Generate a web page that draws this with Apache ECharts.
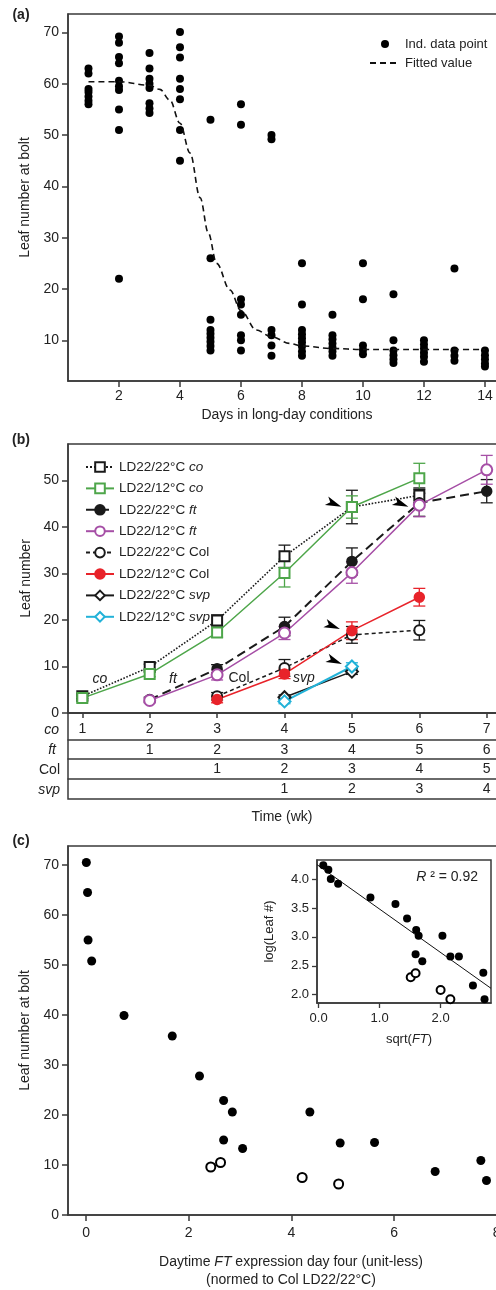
<!DOCTYPE html>
<html><head><meta charset="utf-8">
<script src="https://cdn.jsdelivr.net/npm/echarts@6/dist/echarts.min.js"></script>
<style>html,body{margin:0;padding:0;background:#fff}#c{width:496px;height:1290px}</style>
</head><body><div id="c"></div>
<script>
// ---------- Panel (a) data ----------
const daysA = [1,2,3,4,5,6,7,8,9,10,11,12,13,14];
const leafByDay = [
  [63, 62, 59, 58.4, 57.5, 56.7, 56],
  [69.2, 68, 65.2, 64, 60.6, 59.5, 58.8, 55, 51, 22],
  [66, 63, 61, 60, 59.2, 56.2, 55.2, 54.3],
  [70.1, 67.1, 65.1, 61, 59, 57, 51, 45],
  [53, 26, 14, 12, 11.3, 10.5, 9.7, 8.9, 8],
  [56, 52, 18, 17, 15, 11, 10, 8],
  [50, 49.2, 12, 11, 9, 7],
  [25, 17, 12, 11.2, 10.4, 9.6, 8.8, 7.8, 7],
  [15, 11, 10.2, 9.4, 8.6, 7.8, 7],
  [25, 18, 9, 8.1, 7.3],
  [19, 10, 8, 7.1, 6.3, 5.6],
  [10, 9.2, 8.4, 7.6, 6.8, 5.8],
  [24, 8, 7, 6],
  [8, 7.1, 6.3, 5.5, 4.9]
];
const fitX = [1, 2, 3, 3.34, 3.67, 4, 4.33, 4.66, 4.93, 5.2, 5.64, 6, 6.5, 7, 7.6, 8, 9, 10, 11, 12, 13, 14];
const fitY = [60.4, 60.4, 59.7, 58.9, 56.8, 52.3, 46.5, 37.8, 30.9, 25, 19.8, 15.8, 12, 10.7, 9.4, 8.9, 8.4, 8.2, 8.2, 8.2, 8.2, 8.2];
const dayTicks = [2,4,6,8,10,12,14];
const leafTicksA = [10,20,30,40,50,60,70];

// ---------- Panel (b) data ----------
const weeks = [1,2,3,4,5,6,7];
const coWeekLabels  = [1,2,3,4,5,6,7];
const ftWeekLabels  = ['',1,2,3,4,5,6];
const colWeekLabels = ['','',1,2,3,4,5];
const svpWeekLabels = ['','','',1,2,3,4];
const leafTicksB = [0,10,20,30,40,50];
const seriesNamesB = ['LD22/22°C co','LD22/12°C co','LD22/22°C ft','LD22/12°C ft','LD22/22°C Col','LD22/12°C Col','LD22/22°C svp','LD22/12°C svp'];
const co22  = [3.6, 9.9, 19.9, 33.7, 44.3, 46.8, null];
const co12  = [3.2, 8.4, 17.3, 30.1, 44.3, 50.5, null];
const ft22  = [null, 2.9, 9.5, 18.6, 32.6, 45.2, 47.7];
const ft12  = [null, 2.7, 8.2, 17.2, 30.2, 44.7, 52.3];
const col22 = [null, null, 3.6, 9.7, 16.8, 17.8, null];
const col12 = [null, null, 2.9, 8.4, 17.7, 24.9, null];
const svp22 = [null, null, null, 3.4, 8.9, null, null];
const svp12 = [null, null, null, 2.5, 10.0, null, null];
const co22Err  = [0.5, 0.6, 1.2, 2.4, 3.6, 1.6, null];
const co12Err  = [0.5, 0.6, 1.0, 3.0, 2.4, 3.2, null];
const ft22Err  = [null, 0.5, 0.9, 2.0, 2.9, 2.9, 2.5];
const ft12Err  = [null, 0.5, 1.1, 1.4, 2.3, 2.5, 3.1];
const col22Err = [null, null, 0.8, 1.8, 1.8, 2.1, null];
const col12Err = [null, null, 0.7, 1.0, 1.9, 1.9, null];
const svp22Err = [null, null, null, 0.5, 0.6, null, null];
const svp12Err = [null, null, null, 0.5, 0.8, null, null];
const arrowX = [4.734, 5.728, 4.712, 4.742];
const arrowY = [45.0, 45.0, 18.7, 11.2];

// ---------- Panel (c) data ----------
const ftFilled   = [0.006, 0.03, 0.04, 0.11, 0.74, 1.68, 2.21, 2.68, 2.85, 4.36, 2.68, 3.05, 4.95, 5.62, 6.8, 7.69, 7.8];
const leafFilled = [70.5, 64.5, 55, 50.8, 39.9, 35.8, 27.8, 22.9, 20.6, 20.6, 15, 13.3, 14.4, 14.5, 8.7, 10.9, 6.9];
const ftOpen     = [2.43, 2.62, 4.21, 4.92];
const leafOpen   = [9.6, 10.5, 7.5, 6.2];
const ftTicksC   = [0,2,4,6,8];
const leafTicksC = [0,10,20,30,40,50,60,70];
// inset
const sqrtFtFilled = [0.077, 0.16, 0.20, 0.32, 0.85, 1.26, 1.45, 1.60, 1.64, 1.59, 1.70, 2.03, 2.16, 2.30, 2.53, 2.70, 2.72];
const logLeafFilled = [4.24, 4.16, 4.0, 3.92, 3.68, 3.57, 3.32, 3.12, 3.02, 2.70, 2.58, 3.02, 2.66, 2.66, 2.16, 2.38, 1.92];
const sqrtFtOpen = [1.51, 1.59, 2.0, 2.16];
const logLeafOpen = [2.30, 2.37, 2.08, 1.92];
const regX = [-0.026, 2.826];
const regY = [4.25, 2.11];
const insetXTicks = [0, 1, 2];
const insetYTicks = [2.0, 2.5, 3.0, 3.5, 4.0];

// ---------- styling ----------
const FONT = 'Liberation Sans, Arial, Helvetica, sans-serif';
const INK = '#222';
const AX = '#3a3a3a';
const axLine = {show:true, onZero:false, lineStyle:{color:AX, width:1.5}};

function valAxis(o) {
  return Object.assign({
    type:'value', axisLine:axLine, splitLine:{show:false},
    axisTick:{show:true, length:6, lineStyle:{color:AX, width:1.5}},
    axisLabel:{color:INK, fontSize:14, fontFamily:FONT, margin:9},
    nameTextStyle:{color:INK, fontSize:14, fontFamily:FONT},
    nameMoveOverlap:false
  }, o);
}

const ptsA = [];
daysA.forEach((d,i) => leafByDay[i].forEach(v => ptsA.push([d, v])));
const pair = (xs, ys) => xs.map((x,i) => [x, ys[i]]).filter(p => p[1] != null);

const bData = [co22, co12, ft22, ft12, col22, col12, svp22, svp12];
const bErr  = [co22Err, co12Err, ft22Err, ft12Err, col22Err, col12Err, svp22Err, svp12Err];
const bStyle = [
  {color:'#1a1a1a', type:'dotted', width:1.6, symbol:'emptyRect', size:10},
  {color:'#4ea64a', type:'solid', width:1.5, symbol:'emptyRect', size:10},
  {color:'#1a1a1a', type:[9,5], width:2, symbol:'circle', size:10},
  {color:'#a64fa6', type:'solid', width:1.5, symbol:'emptyCircle', size:11},
  {color:'#1a1a1a', type:[4,3], width:1.5, symbol:'emptyCircle', size:10},
  {color:'#e8232a', type:'solid', width:1.5, symbol:'circle', size:10},
  {color:'#1a1a1a', type:'solid', width:1.5, symbol:'emptyDiamond', size:12},
  {color:'#22b2d8', type:'solid', width:2, symbol:'emptyDiamond', size:12}
];

function errRenderer(color) {
  return function (params, api) {
    const x = api.value(0), y = api.value(1), e = api.value(2);
    const t = api.coord([x, y + e]), b = api.coord([x, y - e]);
    const w = 6, st = {stroke:color, lineWidth:1.3};
    return {type:'group', children:[
      {type:'line', shape:{x1:t[0], y1:t[1], x2:b[0], y2:b[1]}, style:st},
      {type:'line', shape:{x1:t[0]-w, y1:t[1], x2:t[0]+w, y2:t[1]}, style:st},
      {type:'line', shape:{x1:b[0]-w, y1:b[1], x2:b[0]+w, y2:b[1]}, style:st}
    ]};
  };
}

const series = [];
// (a)
series.push({type:'scatter', name:'Ind. data point', xAxisIndex:0, yAxisIndex:0, data:ptsA,
  symbol:'circle', symbolSize:8, itemStyle:{color:'#000', opacity:1}});
series.push({type:'line', name:'Fitted value', xAxisIndex:0, yAxisIndex:0, data:pair(fitX, fitY),
  symbol:'none', smooth:0.35, smoothMonotone:'x', lineStyle:{color:'#111', width:1.6, type:[6,4]}, itemStyle:{color:'#111'}});
// (b) error bars
bErr.forEach((err, k) => {
  const d = weeks.map((w,i) => [w, bData[k][i], err[i]]).filter(p => p[1] != null && p[2] != null);
  series.push({type:'custom', name:'err'+k, xAxisIndex:1, yAxisIndex:1, z:1, data:d,
    encode:{x:0, y:1}, renderItem:errRenderer(bStyle[k].color), silent:true});
});
// (b) lines
bData.forEach((arr, k) => {
  const s = bStyle[k];
  series.push({type:'line', name:seriesNamesB[k], xAxisIndex:1, yAxisIndex:1, z:2,
    data:pair(weeks, arr), symbol:s.symbol, symbolSize:s.size,
    lineStyle:{color:s.color, width:s.width, type:s.type},
    itemStyle:{color:s.color, borderColor:s.color, borderWidth:1.5, opacity:1}});
});
// (b) arrowheads
series.push({type:'scatter', name:'arrows', xAxisIndex:1, yAxisIndex:1, z:5, data:pair(arrowX, arrowY),
  symbol:'path://M0,0 L20,7 L0,14 L5,7 Z', symbolSize:[16,9], symbolRotate:-22, itemStyle:{color:'#000', opacity:1}, silent:true});
// (c)
series.push({type:'scatter', name:'c filled', xAxisIndex:5, yAxisIndex:3, data:pair(ftFilled, leafFilled),
  symbol:'circle', symbolSize:9, itemStyle:{color:'#000', opacity:1}});
series.push({type:'scatter', name:'c open', xAxisIndex:5, yAxisIndex:3, data:pair(ftOpen, leafOpen),
  symbol:'emptyCircle', symbolSize:9, itemStyle:{color:'#000', borderColor:'#000', borderWidth:2, opacity:1}});
// inset
series.push({type:'line', name:'reg', xAxisIndex:6, yAxisIndex:4, data:pair(regX, regY),
  symbol:'none', lineStyle:{color:'#111', width:1}, z:3});
series.push({type:'scatter', name:'i filled', xAxisIndex:6, yAxisIndex:4, data:pair(sqrtFtFilled, logLeafFilled),
  symbol:'circle', symbolSize:8, itemStyle:{color:'#000', opacity:1}, z:4});
series.push({type:'scatter', name:'i open', xAxisIndex:6, yAxisIndex:4, data:pair(sqrtFtOpen, logLeafOpen),
  symbol:'emptyCircle', symbolSize:8, itemStyle:{color:'#000', borderColor:'#000', borderWidth:1.6, opacity:1}, z:4});

const gridBase = {show:true, borderColor:AX, borderWidth:1.5, containLabel:false, outerBoundsMode:'none'};
const grids = [
  Object.assign({left:68, top:14, width:438, height:367}, gridBase),
  Object.assign({left:68, top:444, width:438, height:269}, gridBase),
  Object.assign({left:68, top:713, width:438, height:86}, gridBase),
  Object.assign({left:68, top:846, width:438, height:369}, gridBase),
  Object.assign({left:317, top:860, width:174, height:143, backgroundColor:'#fff'}, gridBase)
];

const rowAxis = (offset, labels) => valAxis({gridIndex:1, position:'bottom', offset:offset, min:0.788, max:7.286,
  axisTick:{show:false},
  axisLabel:{color:INK, fontSize:14, fontFamily:FONT, margin:3,
    customValues: weeks.filter((w,i) => labels[i] !== ''),
    formatter: v => String(labels[Math.round(v) - 1])}});

const xAxes = [
  valAxis({gridIndex:0, min:0.328, max:14.69,
    axisTick:{show:true, length:6, lineStyle:{color:AX, width:1.5}, customValues:dayTicks},
    axisLabel:{color:INK, fontSize:14, fontFamily:FONT, margin:8, customValues:dayTicks},
    name:'Days in long-day conditions', nameLocation:'middle', nameGap:27}),
  valAxis({gridIndex:1, min:0.788, max:7.286,
    axisTick:{show:true, length:5, lineStyle:{color:AX, width:1.5}, customValues:weeks},
    axisLabel:{color:INK, fontSize:14, fontFamily:FONT, margin:9, customValues:weeks,
      formatter: v => String(coWeekLabels[Math.round(v) - 1])}}),
  rowAxis(26.7, ftWeekLabels),
  rowAxis(46, colWeekLabels),
  rowAxis(66, svpWeekLabels),
  valAxis({gridIndex:3, min:-0.351, max:8.18,
    axisTick:{show:true, length:6, lineStyle:{color:AX, width:1.5}, customValues:ftTicksC},
    axisLabel:{color:INK, fontSize:14, fontFamily:FONT, margin:11, customValues:ftTicksC}}),
  valAxis({gridIndex:4, min:-0.026, max:2.826,
    axisTick:{show:true, length:5, lineStyle:{color:AX, width:1.3}, customValues:insetXTicks},
    axisLabel:{color:INK, fontSize:13, fontFamily:FONT, margin:9, customValues:insetXTicks,
      formatter: v => v.toFixed(1)}}),
  {type:'value', gridIndex:2, show:false, min:0, max:1}
];
const yAxes = [
  valAxis({gridIndex:0, min:2.07, max:73.6,
    axisTick:{show:true, length:6, lineStyle:{color:AX, width:1.5}, customValues:leafTicksA},
    axisLabel:{color:INK, fontSize:14, fontFamily:FONT, margin:9, customValues:leafTicksA},
    name:'Leaf number at bolt', nameLocation:'middle', nameGap:36}),
  valAxis({gridIndex:1, min:0, max:57.85,
    axisTick:{show:true, length:6, lineStyle:{color:AX, width:1.5}, customValues:leafTicksB},
    axisLabel:{color:INK, fontSize:14, fontFamily:FONT, margin:9, customValues:leafTicksB},
    name:'Leaf number', nameLocation:'middle', nameGap:35}),
  {type:'value', gridIndex:2, show:false, min:0, max:1},
  valAxis({gridIndex:3, min:0, max:73.8,
    axisTick:{show:true, length:6, lineStyle:{color:AX, width:1.5}, customValues:leafTicksC},
    axisLabel:{color:INK, fontSize:14, fontFamily:FONT, margin:9, customValues:leafTicksC},
    name:'Leaf number at bolt', nameLocation:'middle', nameGap:36}),
  valAxis({gridIndex:4, min:1.856, max:4.33,
    axisTick:{show:true, length:5, lineStyle:{color:AX, width:1.3}, customValues:insetYTicks},
    axisLabel:{color:INK, fontSize:13, fontFamily:FONT, margin:8, customValues:insetYTicks,
      formatter: v => v.toFixed(1)},
    name:'log(Leaf #)', nameLocation:'middle', nameGap:41, nameTextStyle:{color:INK, fontSize:13, fontFamily:FONT}})
];

const txt = (x, y, text, o) => ({type:'text', x:x, y:y, silent:true,
  style:Object.assign({text:text, fill:INK, fontSize:14, fontFamily:FONT, align:'center', verticalAlign:'middle'}, o || {})});
const richIt = {n:{fill:INK, fontSize:14, fontFamily:FONT}, i:{fill:INK, fontSize:14, fontFamily:FONT, fontStyle:'italic'}};

const graphics = [
  txt(21, 15, '(a)', {fontWeight:'bold'}),
  txt(21, 440.5, '(b)', {fontWeight:'bold'}),
  txt(21, 841, '(c)', {fontWeight:'bold'}),
  txt(100, 679, 'co', {fontStyle:'italic'}),
  txt(173, 679, 'ft', {fontStyle:'italic'}),
  txt(239, 678, 'Col'),
  txt(304, 678, 'svp', {fontStyle:'italic'}),
  txt(59, 730, 'co', {fontStyle:'italic', align:'right'}),
  txt(56, 750, 'ft', {fontStyle:'italic', align:'right'}),
  txt(60, 770, 'Col', {align:'right'}),
  txt(60, 790, 'svp', {fontStyle:'italic', align:'right'}),
  txt(282, 817, 'Time (wk)'),
  txt(291, 1262, '{n|Daytime }{i|FT}{n| expression day four (unit-less)}', {rich:richIt}),
  txt(291, 1280, '(normed to Col LD22/22°C)'),
  txt(409, 1039, '{n|sqrt(}{i|FT}{n|)}', {rich:{n:{fill:INK, fontSize:13, fontFamily:FONT}, i:{fill:INK, fontSize:13, fontFamily:FONT, fontStyle:'italic'}}}),
  txt(478, 877, '{i|R}{n| ² = 0.92}', {align:'right', rich:{n:{fill:INK, fontSize:14, fontFamily:FONT}, i:{fill:INK, fontSize:14, fontFamily:FONT, fontStyle:'italic'}}})
];

const option = {
  animation:false,
  backgroundColor:'#fff',
  textStyle:{fontFamily:FONT, color:INK},
  grid:grids,
  xAxis:xAxes,
  yAxis:yAxes,
  legend:[
    {data:['Ind. data point', {name:'Fitted value', itemStyle:{opacity:0}}], orient:'vertical', left:364, top:32,
     itemWidth:30, itemHeight:8, itemGap:5, selectedMode:false,
     textStyle:{fontSize:13, lineHeight:14, color:INK, fontFamily:FONT}},
    {data:seriesNamesB, orient:'vertical', left:80, top:454,
     itemWidth:28, itemHeight:12, itemGap:5.4, selectedMode:false,
     formatter: name => { const m = name.match(/^(.*) (co|ft|svp)$/); return m ? m[1] + ' {i|' + m[2] + '}' : name; },
     textStyle:{fontSize:13.5, lineHeight:16, color:INK, fontFamily:FONT,
       rich:{i:{fontSize:13.5, fontStyle:'italic', color:INK, fontFamily:FONT, lineHeight:16}}}}
  ],
  series:series,
  graphic:graphics
};

const chart = echarts.init(document.getElementById('c'));
chart.setOption(option);
</script>
</body></html>
